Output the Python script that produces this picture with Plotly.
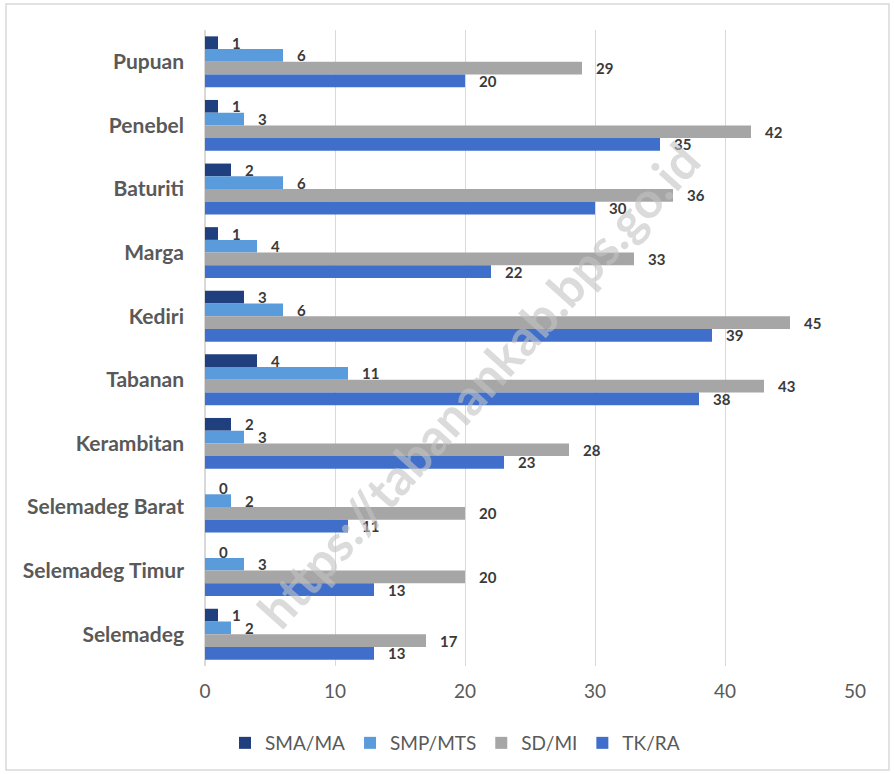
import plotly.graph_objects as go

categories = ["Pupuan", "Penebel", "Baturiti", "Marga", "Kediri", "Tabanan",
              "Kerambitan", "Selemadeg Barat", "Selemadeg Timur", "Selemadeg"]
sma_ma = [1, 1, 2, 1, 3, 4, 2, 0, 0, 1]
smp_mts = [6, 3, 6, 4, 6, 11, 3, 2, 3, 2]
sd_mi = [29, 42, 36, 33, 45, 43, 28, 20, 20, 17]
tk_ra = [20, 35, 30, 22, 39, 38, 23, 11, 13, 13]
x_ticks = [0, 10, 20, 30, 40, 50]

series = [
    ("SMA/MA", sma_ma, "#203F7E"),
    ("SMP/MTS", smp_mts, "#5A9BDB"),
    ("SD/MI", sd_mi, "#A6A6A6"),
    ("TK/RA", tk_ra, "#3F6FCB"),
]

W, H = 894, 774
ml, mr, mt, mb = 205, 39, 30, 108
pw, ph = W - ml - mr, H - mt - mb

fig = go.Figure()
for name, vals, col in series:
    fig.add_trace(go.Bar(
        y=categories, x=vals, name=name, orientation="h",
        marker=dict(color=col, line=dict(width=0)),
        text=["\u00a0\u00a0\u00a0" + str(v) for v in vals], textposition="outside",
        constraintext="none",
        textfont=dict(family="Lato", size=15, color="#3A3A3A", weight="bold"),
        cliponaxis=False, hoverinfo="skip",
    ))

# watermark
fig.add_annotation(
    text="https://tabanankab.bps.go.id", xref="paper", yref="paper",
    x=(478 - ml) / pw, y=(mt + ph - 385) / ph, showarrow=False, textangle=-48,
    font=dict(family="Lato", size=50, color="rgba(195,195,195,0.6)", weight="bold"),
)

# outer border
fig.add_shape(type="rect", xref="paper", yref="paper",
              x0=(6 - ml) / pw, x1=(889 - ml) / pw,
              y0=(mt + ph - 770) / ph, y1=(mt + ph - 4) / ph,
              line=dict(color="#D9D9D9", width=1.5), fillcolor="rgba(0,0,0,0)",
              layer="below")

fig.update_layout(
    width=W, height=H,
    margin=dict(l=ml, r=mr, t=mt, b=mb),
    paper_bgcolor="white", plot_bgcolor="white",
    barmode="group", bargap=0.2, bargroupgap=0,
    showlegend=True,
    legend=dict(orientation="h", x=(455 - ml) / pw, xanchor="center",
                y=(mt + ph - 743) / ph, yanchor="middle",
                font=dict(family="Lato", size=19, color="#595959"),
                itemwidth=30, tracegroupgap=0),
    xaxis=dict(range=[0, 50], tickvals=x_ticks, showgrid=True, gridcolor="#D9D9D9",
               gridwidth=1, zeroline=True, zerolinecolor="#D9D9D9", showline=False,
               tickfont=dict(family="Lato", size=19, color="#595959"),
               ticklabelstandoff=12, fixedrange=True),
    yaxis=dict(autorange="reversed", type="category", showgrid=False, showline=False,
               tickfont=dict(family="Lato", size=21, color="#595959", weight="bold"),
               ticklabelstandoff=20, fixedrange=True),
)

fig.write_html("out.html", config={"displayModeBar": False},
               post_script="document.body.style.margin='0';")
